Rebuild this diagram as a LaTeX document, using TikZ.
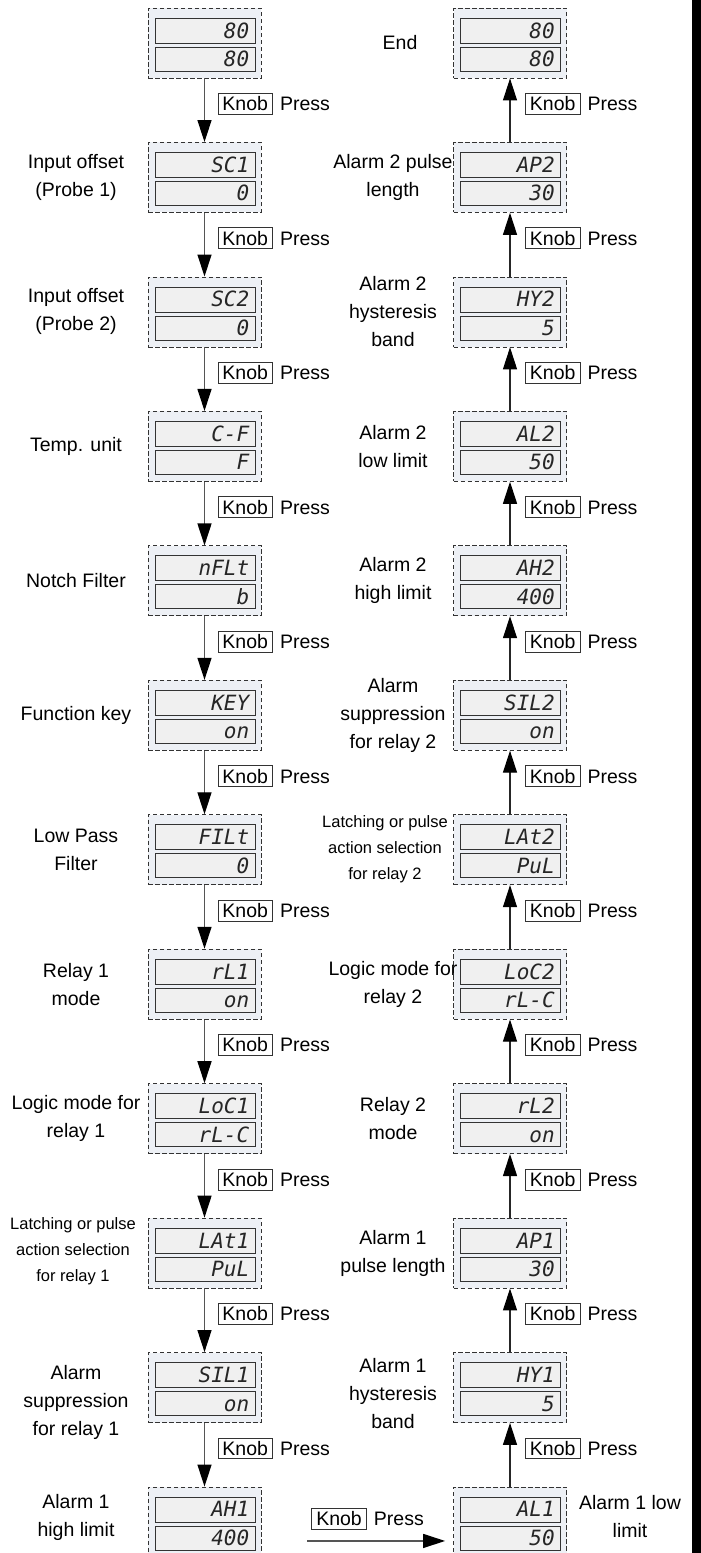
\documentclass[tikz,border=0pt]{standalone}
\usepackage{fontspec}
\setmainfont{Liberation Sans}
\newfontfamily\segfont{DejaVu Sans Mono}
\usetikzlibrary{calc,arrows.meta}
\definecolor{outerfill}{HTML}{EDF0F5}
\definecolor{innerfill}{HTML}{F0F0F0}
\definecolor{edge}{HTML}{333333}
\definecolor{arrline}{HTML}{555555}
\tikzset{
  panel/.style={draw=edge, dash pattern=on 4.5pt off 2.5pt, fill=outerfill, minimum width=113pt, minimum height=70pt, inner sep=0pt, line width=0.8pt},
  screen/.style={draw=edge, solid, fill=innerfill, minimum width=100pt, inner sep=0pt, line width=0.8pt},
  segtext/.style={font=\segfont\itshape\fontsize{21}{21}\selectfont, anchor=east, inner sep=0pt, text height=15pt, text depth=0pt, text=black!85},
  lbl/.style={font=\fontsize{19.5}{28}\selectfont, align=center, inner sep=0pt},
  smalllbl/.style={font=\fontsize{16.5}{26}\selectfont, align=center, inner sep=0pt},
  knobbox/.style={draw=edge, fill=white, font=\fontsize{19.5}{20}\selectfont, inner xsep=4.5pt, inner ysep=3.3pt, line width=0.8pt, anchor=west},
  press/.style={font=\fontsize{19.5}{20}\selectfont, anchor=base west, inner sep=0pt},
  flow/.style={draw=arrline, line width=1.3pt, -{Triangle[length=22pt,width=14pt,color=black]}},
  flowup/.style={draw=black!85, line width=1.1pt, -{Triangle[length=22pt,width=14pt,color=black]}}
}
% name, x-centre, top, upper text, lower text
\newcommand\mkpanel[5]{%
  \node[panel] (#1) at (#2, #3+35) {};
  \node[screen, minimum height=25pt] (#1a) at (#2+0.5, #3+22.5) {};
  \node[screen, minimum height=24pt] (#1b) at (#2+0.5, #3+51) {};
  \node[segtext] (#1at) at ($(#1a.east)+(-6,0)$) {#4};
  \node[segtext] (#1bt) at ($(#1b.east)+(-6,0)$) {#5};
}
% name, upper panel, lower panel, dx
\newcommand\mkknob[4]{%
  \node[knobbox] (#1) at ($(#2.south)!0.4!(#3.north)+(#4,0)$) {Knob};
  \node[press] (#1p) at ($(#1.base east)+(7,0)$) {Press};
}
\begin{document}
\begin{tikzpicture}[x=1pt, y=-1pt]
\useasboundingbox (0,0) rectangle (701,1553);
\clip (0,0) rectangle (701,1553);
% left column
\mkpanel{L0}{204.5}{8}{80}{80}
\mkpanel{L1}{204.5}{8+134.45*1}{SC1}{0}
\mkpanel{L2}{204.5}{8+134.45*2}{SC2}{0}
\mkpanel{L3}{204.5}{8+134.45*3}{C-F}{F}
\mkpanel{L4}{204.5}{8+134.45*4}{nFLt}{b}
\mkpanel{L5}{204.5}{8+134.45*5}{KEY}{on}
\mkpanel{L6}{204.5}{8+134.45*6}{FILt}{0}
\mkpanel{L7}{204.5}{8+134.45*7}{rL1}{on}
\mkpanel{L8}{204.5}{8+134.45*8}{LoC1}{rL-C}
\mkpanel{L9}{204.5}{8+134.45*9}{LAt1}{PuL}
\mkpanel{L10}{204.5}{8+134.45*10}{SIL1}{on}
\mkpanel{L11}{204.5}{8+134.45*11}{AH1}{400}
% right column
\mkpanel{R0}{510}{8}{80}{80}
\mkpanel{R1}{510}{8+134.45*1}{AP2}{30}
\mkpanel{R2}{510}{8+134.45*2}{HY2}{5}
\mkpanel{R3}{510}{8+134.45*3}{AL2}{50}
\mkpanel{R4}{510}{8+134.45*4}{AH2}{400}
\mkpanel{R5}{510}{8+134.45*5}{SIL2}{on}
\mkpanel{R6}{510}{8+134.45*6}{LAt2}{PuL}
\mkpanel{R7}{510}{8+134.45*7}{LoC2}{rL-C}
\mkpanel{R8}{510}{8+134.45*8}{rL2}{on}
\mkpanel{R9}{510}{8+134.45*9}{AP1}{30}
\mkpanel{R10}{510}{8+134.45*10}{HY1}{5}
\mkpanel{R11}{510}{8+134.45*11}{AL1}{50}
% left arrows
\foreach \a/\b in {L0/L1,L1/L2,L2/L3,L3/L4,L4/L5,L5/L6,L6/L7,L7/L8,L8/L9,L9/L10,L10/L11}{
  \draw[flow] (\a.south) -- (\b.north);
  \mkknob{K\a}{\a}{\b}{13}
}
% right arrows
\foreach \a/\b in {R0/R1,R1/R2,R2/R3,R3/R4,R4/R5,R5/R6,R6/R7,R7/R8,R8/R9,R9/R10,R10/R11}{
  \draw[flowup] (\b.north) -- (\a.south);
  \mkknob{K\a}{\a}{\b}{15}
}
% bottom horizontal arrow
\coordinate (hs) at ($(L11.east)+(46,19)$);
\coordinate (he) at ($(R11.west)+(-8,19)$);
\draw[flow] (hs) -- (he);
\node[knobbox] (Kh) at ($(hs)+(4,-22)$) {Knob};
\node[press] (Khp) at ($(Kh.base east)+(7,0)$) {Press};
% left labels
\node[lbl] at (76, 8+134.45*1+35) {Input offset\\(Probe 1)};
\node[lbl] at (76, 8+134.45*2+35) {Input offset\\(Probe 2)};
\node[lbl] at (76, 8+134.45*3+35) {Temp. unit};
\node[lbl] at (76, 8+134.45*4+35) {Notch Filter};
\node[lbl] at (76, 8+134.45*5+35) {Function key};
\node[lbl] at (76, 8+134.45*6+35) {Low Pass\\Filter};
\node[lbl] at (76, 8+134.45*7+35) {Relay 1\\mode};
\node[lbl] at (76, 8+134.45*8+35) {Logic mode for\\relay 1};
\node[smalllbl] at (73, 8+134.45*9+33) {Latching or pulse\\action selection\\for relay 1};
\node[lbl] at (76, 8+134.45*10+50) {Alarm\\suppression\\for relay 1};
\node[lbl] at (76, 8+134.45*11+30) {Alarm 1\\high limit};
% right labels
\node[lbl] at (400, 8+35) {End};
\node[lbl] at (393, 8+134.45*1+35) {Alarm 2 pulse\\length};
\node[lbl] at (393, 8+134.45*2+35) {Alarm 2\\hysteresis\\band};
\node[lbl] at (393, 8+134.45*3+35) {Alarm 2\\low limit};
\node[lbl] at (393, 8+134.45*4+35) {Alarm 2\\high limit};
\node[lbl] at (393, 8+134.45*5+35) {Alarm\\suppression\\for relay 2};
\node[smalllbl] at (385, 8+134.45*6+35) {Latching or pulse\\action selection\\for relay 2};
\node[lbl] at (393, 8+134.45*7+35) {Logic mode for\\relay 2};
\node[lbl] at (393, 8+134.45*8+35) {Relay 2\\mode};
\node[lbl] at (393, 8+134.45*9+35) {Alarm 1\\pulse length};
\node[lbl] at (393, 8+134.45*10+41) {Alarm 1\\hysteresis\\band};
\node[lbl] at (630, 8+134.45*11+30) {Alarm 1 low\\limit};
% right edge bar
\fill[black] (692,0) rectangle (701,1553);
\end{tikzpicture}
\end{document}
